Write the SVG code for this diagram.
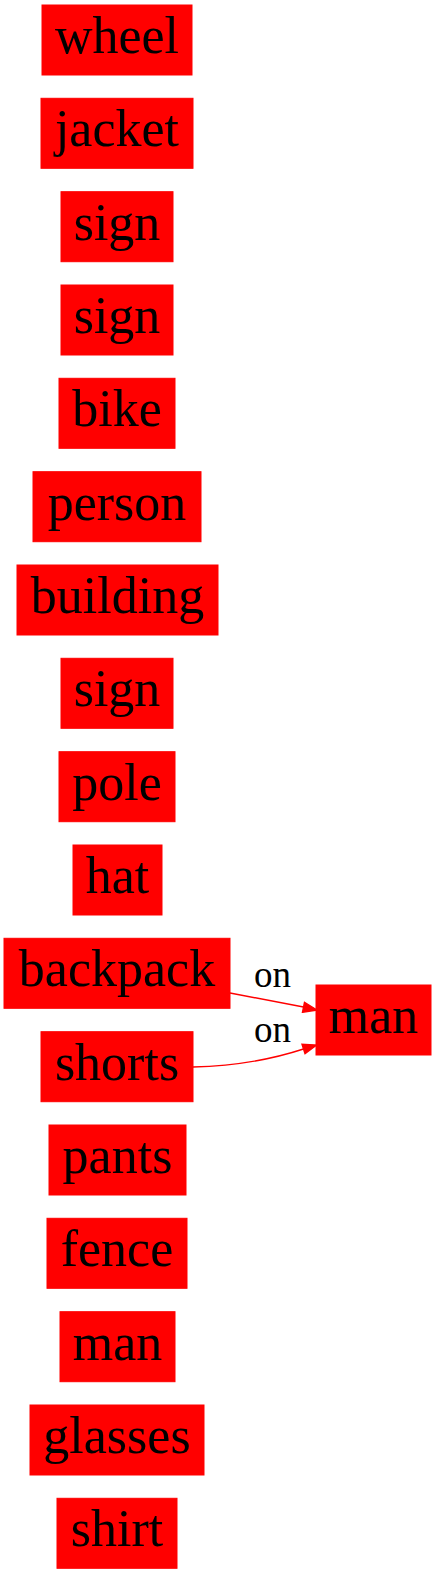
<svg xmlns="http://www.w3.org/2000/svg" width="436" height="1573" viewBox="0 0 436 1573">
<defs>
<style>
.n rect{fill:#ff0000;stroke:#ff0000;stroke-width:1}
.n text{font-family:"Liberation Serif","Times New Roman",serif;font-size:52px;fill:#000;text-anchor:middle}
.e path{fill:none;stroke:#ff0000;stroke-width:1.4}
.e polygon{fill:#ff0000;stroke:#ff0000;stroke-width:1.4}
.e text{font-family:"Liberation Serif","Times New Roman",serif;font-size:37px;fill:#000;text-anchor:middle}
</style>
</defs>
<rect width="436" height="1573" fill="#ffffff"/>
<g id="n0" class="n"><rect x="42" y="5" width="150" height="70"/><text x="117" y="53">wheel</text></g>
<g id="n1" class="n"><rect x="41" y="98.3" width="152" height="70"/><text x="117" y="146.3">jacket</text></g>
<g id="n2" class="n"><rect x="61" y="191.7" width="112" height="70"/><text x="117" y="239.7">sign</text></g>
<g id="n3" class="n"><rect x="61" y="285" width="112" height="70"/><text x="117" y="333">sign</text></g>
<g id="n4" class="n"><rect x="59" y="378.3" width="116" height="70"/><text x="117" y="426.3">bike</text></g>
<g id="n5" class="n"><rect x="33" y="471.7" width="168" height="70"/><text x="117" y="519.7">person</text></g>
<g id="n6" class="n"><rect x="17" y="565" width="201" height="70"/><text x="117.5" y="613">building</text></g>
<g id="n7" class="n"><rect x="61" y="658.3" width="112" height="70"/><text x="117" y="706.3">sign</text></g>
<g id="n8" class="n"><rect x="59" y="751.7" width="116" height="70"/><text x="117" y="799.7">pole</text></g>
<g id="n9" class="n"><rect x="73" y="845" width="89" height="70"/><text x="117.5" y="893">hat</text></g>
<g id="n10" class="n"><rect x="4" y="938.3" width="226" height="70"/><text x="117" y="986.3">backpack</text></g>
<g id="n11" class="n"><rect x="41" y="1031.7" width="152" height="70"/><text x="117" y="1079.7">shorts</text></g>
<g id="n12" class="n"><rect x="49" y="1125" width="137" height="70"/><text x="117.5" y="1173">pants</text></g>
<g id="n13" class="n"><rect x="47" y="1218.3" width="140" height="70"/><text x="117" y="1266.3">fence</text></g>
<g id="n14" class="n"><rect x="60" y="1311.7" width="115" height="70"/><text x="117.5" y="1359.7">man</text></g>
<g id="n15" class="n"><rect x="30" y="1405" width="174" height="70"/><text x="117" y="1453">glasses</text></g>
<g id="n16" class="n"><rect x="57" y="1498.3" width="120" height="70"/><text x="117" y="1546.3">shirt</text></g>
<g id="n17" class="n"><rect x="316" y="985" width="115" height="70"/><text x="373.5" y="1033">man</text></g>
<g id="edges" class="e">
<g id="e0"><path d="M230,993 C254,997.5 278,1002 303.5,1007"/><polygon points="302.5,1012.2 317,1010 304.5,1002.4"/><text x="272.5" y="986.5">on</text></g>
<g id="e1"><path d="M193,1067 C232,1066 270,1060 303.5,1049"/><polygon points="305,1053.6 316.5,1045 302,1044.2"/><text x="272.5" y="1041.5">on</text></g>
</g>
</svg>
